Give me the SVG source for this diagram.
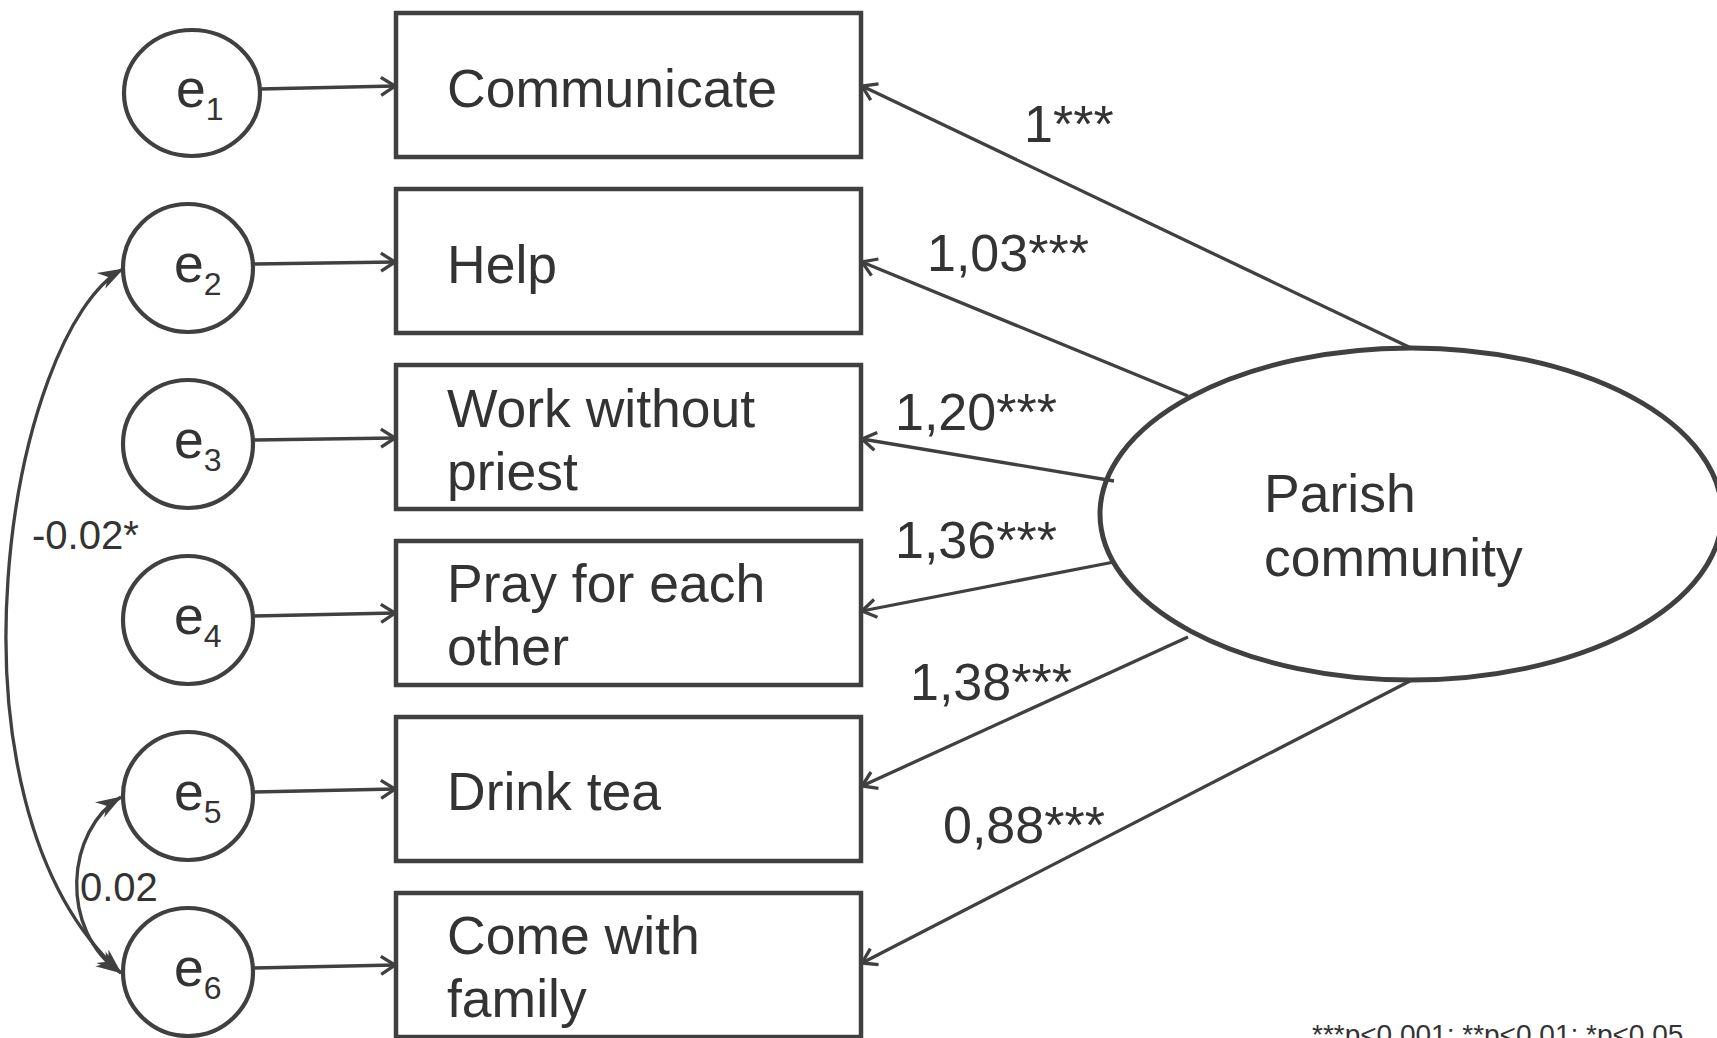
<svg xmlns="http://www.w3.org/2000/svg" width="1717" height="1038" viewBox="0 0 1717 1038">
<style>
.box{fill:#fff;stroke:#404040;stroke-width:4.5}
.err{fill:#fff;stroke:#404040;stroke-width:4.2}
.lat{fill:#fff;stroke:#404040;stroke-width:5}
.t{font-family:"Liberation Sans",Arial,sans-serif;fill:#333;font-size:53.5px}
.lbl{font-family:"Liberation Sans",Arial,sans-serif;fill:#333;font-size:52px}
.cov{font-family:"Liberation Sans",Arial,sans-serif;fill:#333;font-size:40px}
.sub{font-size:32px}
.c{fill:none;stroke:#404040;stroke-width:3.3}
.a{marker-end:url(#open)}
.b{marker-start:url(#stealthS);marker-end:url(#stealth)}
</style>
<defs>
<marker id="open" viewBox="0 0 18 22" refX="16" refY="11" markerWidth="18" markerHeight="22" markerUnits="userSpaceOnUse" orient="auto">
<path d="M2,2 L16,11 L2,20" fill="none" stroke="#404040" stroke-width="3.3"/>
</marker>
<marker id="stealth" viewBox="0 0 26 20" refX="25" refY="10" markerWidth="26" markerHeight="20" markerUnits="userSpaceOnUse" orient="auto">
<path d="M0,1 L26,10 L0,19 L8,10 Z" fill="#404040"/>
</marker>
<marker id="stealthS" viewBox="0 0 26 20" refX="1" refY="10" markerWidth="26" markerHeight="20" markerUnits="userSpaceOnUse" orient="auto">
<path d="M26,1 L0,10 L26,19 L18,10 Z" fill="#404040"/>
</marker>
</defs>

<g id="box1"><rect class="box" x="396" y="13" width="465" height="144"/><text class="t" x="447" y="107">Communicate</text></g>
<g id="box2"><rect class="box" x="396" y="189" width="465" height="144"/><text class="t" x="447" y="283">Help</text></g>
<g id="box3"><rect class="box" x="396" y="365" width="465" height="144"/><text class="t" x="447" y="427">Work without</text><text class="t" x="447" y="490">priest</text></g>
<g id="box4"><rect class="box" x="396" y="541" width="465" height="144"/><text class="t" x="447" y="602">Pray for each</text><text class="t" x="447" y="665">other</text></g>
<g id="box5"><rect class="box" x="396" y="717" width="465" height="144"/><text class="t" x="447" y="810">Drink tea</text></g>
<g id="box6"><rect class="box" x="396" y="893" width="465" height="144"/><text class="t" x="447" y="954">Come with</text><text class="t" x="447" y="1017">family</text></g>

<g id="e1"><ellipse class="err" cx="192" cy="93" rx="68" ry="63"/><text class="t" x="176" y="107">e<tspan class="sub" dy="13">1</tspan></text></g>
<g id="e2"><ellipse class="err" cx="188" cy="268" rx="65" ry="64"/><text class="t" x="174" y="282">e<tspan class="sub" dy="13">2</tspan></text></g>
<g id="e3"><ellipse class="err" cx="188" cy="444" rx="65" ry="64"/><text class="t" x="174" y="458">e<tspan class="sub" dy="13">3</tspan></text></g>
<g id="e4"><ellipse class="err" cx="188" cy="620" rx="65" ry="64"/><text class="t" x="174" y="634">e<tspan class="sub" dy="13">4</tspan></text></g>
<g id="e5"><ellipse class="err" cx="188" cy="796" rx="65" ry="64"/><text class="t" x="174" y="810">e<tspan class="sub" dy="13">5</tspan></text></g>
<g id="e6"><ellipse class="err" cx="188" cy="972" rx="65" ry="64"/><text class="t" x="174" y="986">e<tspan class="sub" dy="13">6</tspan></text></g>

<g id="parish"><ellipse class="lat" cx="1411" cy="514" rx="311" ry="166"/><text class="t" x="1264" y="512">Parish</text><text class="t" x="1264" y="576">community</text></g>

<g id="connectors">
<path class="c a" d="M260,89 L395,86"/>
<path class="c a" d="M253,264 L395,262"/>
<path class="c a" d="M253,440 L395,438"/>
<path class="c a" d="M253,616 L395,613"/>
<path class="c a" d="M253,792 L395,789"/>
<path class="c a" d="M253,968 L395,965"/>

<path class="c a" d="M1411,348 L862,86"/>
<path class="c a" d="M1188,396 L862,262"/>
<path class="c a" d="M1114,481 L862,439"/>
<path class="c a" d="M1114,562 L862,611"/>
<path class="c a" d="M1188,637 L862,786"/>
<path class="c a" d="M1410,681 L862,963"/>

<path class="c b" d="M123,269 C10,330 -70,800 121,973"/>
<path class="c b" d="M121,797 C66,830 58,930 121,973"/>

<text class="lbl" x="1024" y="142">1***</text>
<text class="lbl" x="927" y="271">1,03***</text>
<text class="lbl" x="895" y="430">1,20***</text>
<text class="lbl" x="895" y="558">1,36***</text>
<text class="lbl" x="910" y="700">1,38***</text>
<text class="lbl" x="943" y="843">0,88***</text>

<text class="cov" x="32" y="549">-0.02*</text>
<text class="cov" x="80" y="901">0.02</text>
</g>

<text font-family="Liberation Sans, Arial, sans-serif" font-size="28" fill="#333" x="1312" y="1044">***p&lt;0.001; **p&lt;0.01; *p&lt;0.05</text>
</svg>
